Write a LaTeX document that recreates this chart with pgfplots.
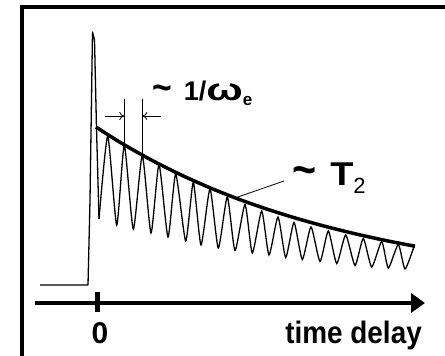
\documentclass[border=0pt]{standalone}
\usepackage{fontspec}
\setmainfont{Liberation Sans}
\usepackage{pgfplots}
\pgfplotsset{compat=1.18}
\usetikzlibrary{arrows.meta}

\newcommand{\tld}{\scalebox{1.25}[1.4]{\char"007E\relax}}

\begin{document}
\begin{tikzpicture}
\begin{axis}[
  width=445bp, height=356bp, scale only axis,
  xmin=0, xmax=445, ymin=0, ymax=356,
  hide axis, clip=false,
]
\coordinate (ll) at (rel axis cs:0,0);
\coordinate (ur) at (rel axis cs:1,1);

% frame
\draw[line width=4bp, line join=miter] (axis cs:22,0) -- (axis cs:22,349) -- (axis cs:445,349);

% pump spike and baseline before time zero
\addplot[black, line width=1.3bp, line join=round] coordinates {
  (40,71) (88,71) (90,156) (92.5,324) (94.5,316) (96.5,228) (99,137)
};

% oscillating signal
\addplot[black, line width=1.3bp, smooth, tension=0.35] coordinates {
  (99,137) (107.7,220) (116.7,131) (124.3,210.5) (133.3,127) (142.3,200.5)
  (151,123) (159,191.5) (168,119) (175.7,182) (185.7,115) (193.3,173.5)
  (201,111) (210,167) (218.3,108) (227.3,159) (235,105.5) (245,151.5)
  (252.3,103) (261.7,145) (269,101) (278,139) (285.7,98.5) (294,133.5)
  (302.3,96.5) (311,129) (320,94.5) (328.3,125) (336.7,92.5) (345.7,121)
  (355,90.5) (363.3,117.5) (371.7,89) (381.7,114.5) (388.3,88) (398.3,111.5)
  (405,87) (414,109.5)
};

% decay envelope
\addplot[black, line width=3.5bp, smooth] coordinates {
  (96,229) (120,213.7) (150,196.7) (180,181.6) (210,168.2) (240,156.3)
  (270,145.9) (300,136.6) (330,128.4) (360,121.1) (390,114.6) (415,109.8)
};

% time axis
\draw[line width=4bp, -{Triangle[length=14bp, width=19bp]}] (axis cs:35,53) -- (axis cs:425,53);
\draw[line width=5bp] (axis cs:97,44) -- (axis cs:97,64);
\node[anchor=base, inner sep=0, font=\fontsize{30bp}{30bp}\selectfont\bfseries] at (axis cs:100,13) {0};
\node[anchor=base east, inner sep=0, font=\fontsize{31bp}{31bp}\selectfont\bfseries] at (axis cs:422,13)
  {\scalebox{0.9}[1]{time delay}};

% period marker
\draw[line width=0.8bp] (axis cs:124.3,257) -- (axis cs:124.3,211);
\draw[line width=0.8bp] (axis cs:142.3,257) -- (axis cs:142.3,201);
\draw[line width=0.8bp, -{To[length=5bp, width=8bp]}] (axis cs:105,240) -- (axis cs:124.3,240);
\draw[line width=0.8bp, -{To[length=5bp, width=8bp]}] (axis cs:161,240) -- (axis cs:142.3,240);
\node[anchor=base west, inner sep=0, font=\fontsize{27bp}{27bp}\selectfont\bfseries] at (axis cs:152,255)
  {\tld\hspace{12bp}1/\scalebox{1.6}[1.15]{ω}\raisebox{-0.3ex}{\fontsize{17bp}{17bp}\selectfont e}};

% dephasing time label
\draw[line width=0.8bp] (axis cs:235,158) -- (axis cs:284,175);
\node[anchor=base west, inner sep=0, font=\fontsize{33bp}{33bp}\selectfont\bfseries] at (axis cs:292,170)
  {\tld\hspace{14bp}\scalebox{1.15}[1]{T}\raisebox{-0.45ex}{\fontsize{22bp}{22bp}\selectfont\mdseries 2}};
\end{axis}
\pgfresetboundingbox
\useasboundingbox (ll) rectangle (ur);
\end{tikzpicture}
\end{document}
